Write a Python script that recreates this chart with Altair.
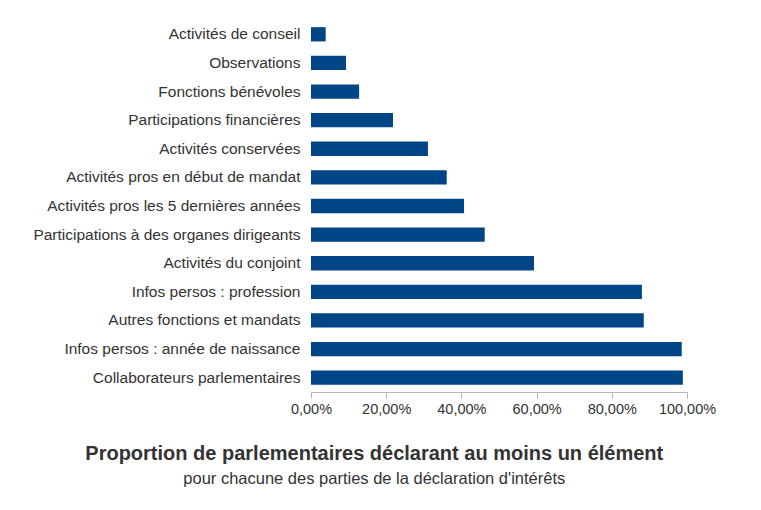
import altair as alt
import pandas as pd

categories = [
    "Activités de conseil",
    "Observations",
    "Fonctions bénévoles",
    "Participations financières",
    "Activités conservées",
    "Activités pros en début de mandat",
    "Activités pros les 5 dernières années",
    "Participations à des organes dirigeants",
    "Activités du conjoint",
    "Infos persos : profession",
    "Autres fonctions et mandats",
    "Infos persos : année de naissance",
    "Collaborateurs parlementaires",
]
values = [0.039, 0.093, 0.128, 0.218, 0.311, 0.361, 0.407, 0.462, 0.593, 0.880, 0.885, 0.986, 0.989]
tick_values = [0, 0.2, 0.4, 0.6, 0.8, 1.0]

df = pd.DataFrame({"categorie": categories, "valeur": values})

FONT = "Liberation Sans"

chart = alt.Chart(df).mark_bar(color="#004586").encode(
    x=alt.X(
        "valeur:Q",
        scale=alt.Scale(domain=[0, 1], nice=False),
        axis=alt.Axis(
            title=None,
            values=tick_values,
            labelExpr="replace(format(datum.value, '.2%'), '.', ',')",
            grid=False,
            domainColor="#b3b3b3",
            tickColor="#b3b3b3",
            tickSize=6,
            labelFont=FONT,
            labelFontSize=14.5,
            labelColor="#333333",
            labelPadding=4,
            labelFlush=False,
        ),
    ),
    y=alt.Y(
        "categorie:N",
        sort=None,
        scale=alt.Scale(paddingInner=0.5, paddingOuter=0.25),
        axis=alt.Axis(
            title=None,
            domain=False,
            ticks=False,
            labelFont=FONT,
            labelFontSize=15.5,
            labelColor="#333333",
            labelPadding=11,
            labelLimit=400,
        ),
    ),
).properties(
    width=376,
    height=372,
    title=alt.TitleParams(
        text="Proportion de parlementaires déclarant au moins un élément",
        subtitle="pour chacune des parties de la déclaration d'intérêts",
        orient="bottom",
        anchor="middle",
        frame="bounds",
        font=FONT,
        fontSize=20,
        fontWeight="bold",
        color="#333333",
        subtitleFont=FONT,
        subtitleFontSize=16.5,
        subtitleColor="#333333",
        subtitlePadding=7,
        offset=28,
    ),
    autosize=alt.AutoSizeParams(type="none"),
    padding={"left": 303, "top": 12, "right": 50, "bottom": 110},
).configure_view(stroke=None)

chart.save("out.html", embed_options={"renderer": "svg", "actions": False})
